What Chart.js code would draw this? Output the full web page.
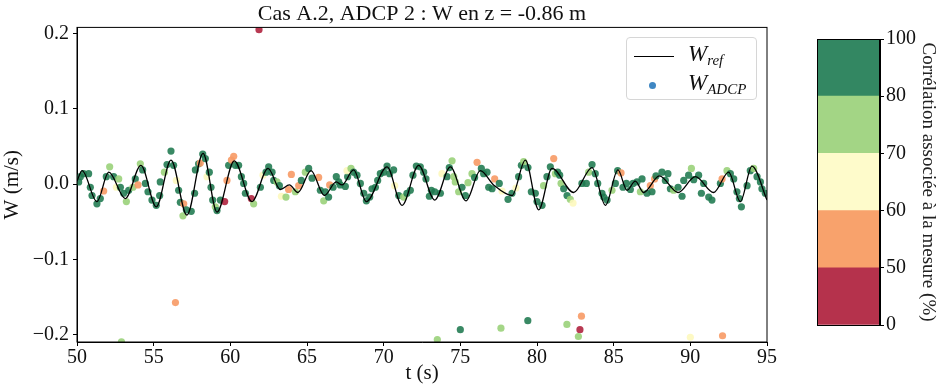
<!DOCTYPE html>
<html lang="fr">
<head>
<meta charset="UTF-8">
<title>Cas A.2, ADCP 2</title>
<script src="https://cdn.jsdelivr.net/npm/chart.js"></script>
<style>
    body { margin: 0; background: #fff; width: 939px; height: 389px; position: relative; overflow: hidden; }
    #main { position: absolute; left: 0; top: 0; }
    #cbar { position: absolute; left: 800px; top: 0; }
    .legend {
        position: absolute; left: 626px; top: 37px; width: 129px; height: 61px;
        border: 1px solid #d6d6d6; border-radius: 4px; background: rgba(255,255,255,0.85);
        font-family: "Liberation Serif", serif; font-style: italic; font-size: 23px; color: #111;
    }
    .legend .row { position: absolute; left: 0; height: 28px; width: 100%; }
    .legend .line { position: absolute; left: 7px; top: 15px; width: 40px; height: 0; border-top: 1.5px solid #000; }
    .legend .dot { position: absolute; left: 22px; top: 12px; width: 7px; height: 7px; border-radius: 50%; background: #3f87c3; }
    .legend .lab { position: absolute; left: 61px; top: 0; white-space: nowrap; }
    .legend sub { font-size: 15px; vertical-align: -4px; }
</style>
</head>
<body>
<canvas id="main" width="800" height="389"></canvas>
<canvas id="cbar" width="139" height="389"></canvas>
<div class="legend">
    <div class="row" style="top:3px"><div class="line"></div><span class="lab">W<sub>ref</sub></span></div>
    <div class="row" style="top:32px"><div class="dot"></div><span class="lab">W<sub>ADCP</sub></span></div>
</div>
<script>
    // courbe de reference (extrema)
    const refT = [50.0, 50.33, 51.3, 52.07, 53.15, 54.17, 55.17, 56.13, 57.17, 58.22,
        59.13, 60.26, 61.41, 62.46, 63.26, 63.85, 64.41, 65.26, 66.13, 66.91,
        67.28, 68.04, 68.87, 70.22, 71.2, 72.28, 73.33, 74.35, 75.37, 76.3,
        77.17, 78.37, 79.24, 80.11, 80.98, 82.39, 83.59, 84.46, 85.28, 85.87,
        86.41, 86.96, 87.98, 89.2, 90.33, 91.52, 92.5, 93.26, 94.02, 95.0];
    const refW = [0.004, 0.018, -0.023, 0.016, -0.019, 0.025, -0.030, 0.032, -0.041, 0.041,
        -0.037, 0.031, -0.023, 0.021, -0.007, -0.001, -0.011, 0.018, -0.015, 0.003,
        -0.001, 0.019, -0.023, 0.023, -0.028, 0.025, -0.021, 0.023, -0.022, 0.018,
        -0.001, -0.015, 0.032, -0.034, 0.021, -0.011, 0.022, -0.028, 0.019, -0.008,
        0.004, -0.011, 0.011, -0.011, 0.010, -0.011, 0.016, -0.023, 0.024, -0.021];

    // mesures ADCP : temps, vitesse, correlation (%)
    const adcpT = [50.11, 50.22, 50.43, 50.76, 50.87, 50.98, 51.30, 51.52, 51.74, 51.91,
        52.13, 52.39, 52.57, 52.72, 52.83, 53.04, 53.22, 53.37, 53.65, 53.80,
        53.98, 54.13, 54.28, 54.46, 54.63, 54.89, 55.17, 55.39, 55.43, 55.70,
        55.87, 56.13, 56.30, 56.48, 56.63, 56.74, 56.96, 56.91, 57.13, 57.45,
        57.67, 57.72, 57.93, 58.04, 58.20, 58.37, 58.48, 58.63, 58.74, 58.85,
        59.02, 59.13, 59.35, 59.63, 59.78, 59.89, 60.07, 60.22, 60.33, 60.54,
        60.72, 60.87, 60.98, 61.37, 61.52, 61.96, 62.13, 62.33, 62.50, 62.72,
        62.83, 63.04, 63.20, 63.33, 63.63, 63.80, 63.98, 64.24, 64.46, 64.63,
        64.89, 65.11, 65.33, 65.76, 65.87, 66.09, 66.20, 66.41, 66.48, 66.70,
        66.91, 67.07, 67.17, 67.50, 67.65, 67.61, 67.87, 68.04, 68.26, 68.48,
        68.70, 68.87, 69.09, 69.24, 69.46, 69.61, 69.78, 70.00, 70.22, 70.39,
        70.65, 70.72, 70.98, 71.30, 71.52, 71.74, 71.91, 72.13, 72.39, 72.61,
        72.76, 72.98, 73.11, 73.33, 73.70, 73.80, 74.13, 74.28, 74.46, 74.57,
        74.67, 74.89, 75.11, 75.33, 75.50, 75.76, 75.93, 76.09, 76.37, 76.52,
        76.74, 76.85, 77.07, 77.24, 77.54, 77.72, 78.11, 78.37, 78.63, 78.80,
        78.98, 79.13, 79.41, 79.63, 79.89, 80.00, 80.33, 80.43, 80.65, 80.87,
        81.09, 81.20, 81.35, 81.48, 81.57, 81.74, 81.96, 82.17, 82.35, 82.93,
        83.22, 83.37, 83.59, 83.80, 83.96, 84.24, 84.35, 84.57, 84.89, 85.11,
        85.26, 85.48, 85.61, 85.83, 86.09, 86.26, 86.52, 86.74, 86.85, 87.17,
        87.39, 87.50, 87.67, 87.76, 88.15, 88.37, 88.54, 88.70, 88.91, 89.20,
        89.46, 89.57, 89.89, 90.07, 90.22, 90.54, 90.72, 90.87, 91.20, 91.41,
        91.96, 92.07, 92.39, 92.61, 92.83, 93.04, 93.20, 93.33, 93.70, 93.91,
        94.13, 94.35, 94.57, 94.67, 94.89,
        61.87, 52.9, 56.42, 73.5, 75.0, 77.65, 79.4, 81.95, 82.9, 82.8,
        82.7, 90.0, 92.1];
    const adcpW = [0.003, 0.010, 0.014, 0.014, -0.004, -0.015, -0.026, -0.019, -0.009, 0.010,
        0.023, 0.010, -0.004, 0.007, -0.004, -0.012, -0.023, -0.008, -0.004, 0.007,
        -0.001, 0.027, 0.019, 0.001, -0.010, -0.021, -0.028, -0.015, 0.003, 0.016,
        0.026, 0.044, 0.025, 0.005, -0.008, -0.024, -0.026, -0.042, -0.034, -0.036,
        -0.012, 0.019, 0.027, 0.028, 0.040, 0.034, 0.010, 0.016, -0.004, -0.021,
        -0.030, -0.035, -0.021, -0.023, 0.005, 0.025, 0.032, 0.037, 0.025, 0.025,
        0.010, 0.001, -0.012, -0.019, -0.026, -0.004, 0.012, 0.016, 0.023, 0.016,
        0.005, 0.003, -0.002, -0.016, -0.017, -0.007, 0.013, -0.010, -0.002, 0.005,
        0.016, 0.021, 0.008, 0.009, -0.008, -0.022, -0.010, -0.017, -0.001, -0.004,
        0.010, 0.003, -0.001, -0.003, 0.010, 0.018, 0.021, 0.016, 0.012, 0.001,
        -0.012, -0.022, -0.017, -0.006, -0.004, 0.005, 0.014, 0.016, 0.024, 0.014,
        0.019, -0.002, -0.015, -0.017, -0.012, -0.008, 0.012, 0.024, 0.023, 0.016,
        0.007, -0.016, -0.008, -0.010, -0.012, 0.014, 0.010, 0.022, 0.031, 0.010,
        0.003, -0.010, -0.004, -0.015, 0.002, 0.014, 0.009, 0.029, 0.021, 0.014,
        0.016, -0.004, -0.006, 0.007, 0.001, -0.009, -0.020, -0.012, -0.005, 0.010,
        0.025, 0.030, 0.022, -0.010, -0.012, -0.023, -0.028, -0.002, 0.010, 0.023,
        0.034, 0.014, 0.016, 0.012, 0.001, -0.006, -0.015, -0.020, -0.025, 0.001,
        0.001, 0.016, 0.026, 0.014, 0.001, -0.012, -0.017, -0.021, -0.008, 0.001,
        0.018, 0.015, -0.004, 0.001, -0.007, 0.001, 0.003, -0.010, 0.007, -0.012,
        -0.002, -0.010, 0.007, 0.011, 0.016, 0.005, 0.014, -0.006, -0.008, -0.004,
        -0.016, 0.005, 0.012, 0.021, 0.006, 0.012, -0.012, 0.001, -0.017, -0.021,
        0.001, 0.007, 0.018, 0.014, 0.007, -0.010, -0.019, -0.030, -0.002, 0.018,
        0.021, 0.010, 0.003, -0.006, -0.012,
        0.205, -0.209, -0.157, -0.206, -0.193, -0.191, -0.181, -0.186, -0.175, -0.193,
        -0.202, -0.203, -0.201];
    const adcpCorr = [90, 90, 90, 90, 90, 90, 90, 90, 55, 90,
        75, 90, 65, 75, 90, 90, 75, 90, 75, 90,
        55, 75, 90, 90, 90, 90, 90, 90, 90, 75,
        90, 90, 90, 65, 90, 90, 55, 75, 90, 90,
        90, 90, 90, 55, 90, 90, 65, 90, 90, 90,
        75, 90, 90, 40, 55, 90, 55, 55, 90, 90,
        90, 90, 90, 40, 75, 90, 65, 90, 90, 90,
        90, 75, 90, 65, 75, 55, 55, 75, 55, 90,
        75, 90, 90, 55, 90, 75, 90, 90, 55, 90,
        90, 90, 90, 90, 90, 65, 75, 90, 90, 90,
        90, 90, 90, 90, 90, 90, 90, 90, 90, 90,
        90, 65, 90, 75, 90, 90, 90, 90, 90, 90,
        90, 90, 90, 90, 90, 65, 90, 90, 75, 75,
        75, 75, 90, 90, 75, 75, 90, 55, 90, 90,
        90, 90, 90, 55, 90, 65, 90, 90, 65, 90,
        90, 75, 90, 90, 90, 90, 90, 75, 90, 90,
        55, 75, 90, 90, 75, 90, 90, 75, 65, 90,
        90, 75, 90, 90, 90, 90, 90, 90, 75, 90,
        90, 55, 90, 90, 90, 90, 90, 75, 90, 90,
        55, 90, 55, 90, 90, 90, 90, 90, 75, 90,
        90, 90, 90, 75, 90, 90, 90, 90, 90, 90,
        90, 55, 75, 90, 90, 90, 90, 90, 90, 90,
        75, 90, 90, 90, 90,
        40, 75, 55, 75, 90, 75, 90, 75, 55, 40,
        75, 65, 55];

    const xTicks = [50, 55, 60, 65, 70, 75, 80, 85, 90, 95];
    const yTicks = [-0.2, -0.1, 0.0, 0.1, 0.2];

    // barre de couleur (classes discretes, meme hauteur pour chaque classe)
    const cbEdges = [0, 50, 60, 70, 80, 100];
    const cbColors = ['#b5324c', '#f8a26c', '#fefbcb', '#a3d585', '#338762'];
    const dotColors = ['rgba(176,36,63,0.9)', 'rgba(247,154,101,0.9)', 'rgba(253,248,190,0.9)',
        'rgba(154,209,122,0.9)', 'rgba(30,121,79,0.88)'];

    const txt = '#111';
    const serif = '"Liberation Serif", "DejaVu Serif", serif';

    function corrColor(c) {
        for (let i = cbEdges.length - 2; i >= 0; i--) {
            if (c >= cbEdges[i]) return dotColors[i];
        }
        return dotColors[0];
    }
    const fmt = v => (Math.abs(v) < 1e-9 ? '0.0' : v.toFixed(1).replace('-', '\u2212'));

    new Chart(document.getElementById('main'), {
        type: 'scatter',
        data: {
            datasets: [{
                type: 'line',
                label: 'W_ref',
                data: refT.map((t, i) => ({ x: t, y: refW[i] })),
                borderColor: '#000',
                borderWidth: 1.3,
                pointRadius: 0,
                cubicInterpolationMode: 'monotone',
                fill: false
            }, {
                label: 'W_ADCP',
                data: adcpT.map((t, i) => ({ x: t, y: adcpW[i] })),
                backgroundColor: adcpCorr.map(corrColor),
                borderWidth: 0,
                pointRadius: 3.6
            }]
        },
        options: {
            responsive: false,
            animation: false,
            layout: { padding: { left: 0, right: 33, top: 0, bottom: 0 } },
            plugins: {
                legend: { display: false },
                tooltip: { enabled: false },
                title: {
                    display: true,
                    fullSize: false,
                    text: 'Cas A.2, ADCP 2 : W en z = -0.86 m',
                    color: txt,
                    font: { family: serif, size: 22, weight: 'normal' },
                    padding: { top: 1, bottom: 0 }
                }
            },
            scales: {
                x: {
                    type: 'linear', min: 50, max: 95,
                    afterBuildTicks: s => { s.ticks = xTicks.map(v => ({ value: v })); },
                    afterFit: s => { s.height = 47; },
                    grid: { drawOnChartArea: false, tickLength: 4, tickColor: '#000', tickWidth: 1 },
                    border: { color: '#000', width: 1 },
                    ticks: { color: txt, padding: 0, maxRotation: 0, font: { family: serif, size: 20 } },
                    title: { display: true, text: 't (s)', color: txt, padding: { top: 0, bottom: 3 },
                        font: { family: serif, size: 21 } }
                },
                y: {
                    type: 'linear', min: -0.2093, max: 0.208,
                    afterBuildTicks: s => { s.ticks = yTicks.map(v => ({ value: v })); },
                    afterFit: s => { s.width = 77; },
                    grid: { drawOnChartArea: false, tickLength: 4, tickColor: '#000', tickWidth: 1 },
                    border: { color: '#000', width: 1 },
                    ticks: { color: txt, padding: 4, callback: fmt, font: { family: serif, size: 20 } },
                    title: { display: true, text: 'W (m/s)', color: txt, padding: { top: 0, bottom: 0 },
                        font: { family: serif, size: 21 } }
                }
            }
        },
        plugins: [{
            id: 'frame',
            afterDraw(chart) {
                const { ctx, chartArea: a } = chart;
                ctx.save();
                ctx.strokeStyle = '#000';
                ctx.lineWidth = 1;
                ctx.strokeRect(a.left, a.top, a.right - a.left, a.bottom - a.top);
                ctx.restore();
            }
        }]
    });

    new Chart(document.getElementById('cbar'), {
        type: 'bar',
        data: {
            labels: [''],
            datasets: cbColors.map(c => ({
                data: [1],
                backgroundColor: c,
                borderWidth: 0,
                categoryPercentage: 1,
                barPercentage: 1
            }))
        },
        options: {
            responsive: false,
            animation: false,
            layout: { padding: { left: 17, right: 0, top: 39, bottom: 64 } },
            plugins: { legend: { display: false }, tooltip: { enabled: false } },
            scales: {
                x: { display: false, stacked: true },
                y: {
                    position: 'right', stacked: true, min: 0, max: cbColors.length,
                    afterBuildTicks: s => { s.ticks = cbEdges.map((v, i) => ({ value: i })); },
                    afterFit: s => { s.width = 59; },
                    grid: { drawOnChartArea: false, tickLength: 4, tickColor: '#000' },
                    border: { color: '#000' },
                    ticks: { color: txt, padding: 2, callback: (v, i) => String(cbEdges[i]),
                        font: { family: serif, size: 20 } },
                    title: { display: true, text: 'Corrélation associée à la mesure (%)', color: '#222',
                        padding: { top: 0, bottom: 4 }, font: { family: serif, size: 19 } }
                }
            }
        },
        plugins: [{
            id: 'cbframe',
            afterDraw(chart) {
                const { ctx, chartArea: a } = chart;
                ctx.save();
                ctx.strokeStyle = '#000';
                ctx.lineWidth = 1;
                ctx.strokeRect(a.left + 0.5, a.top + 0.5, a.right - a.left - 1, a.bottom - a.top);
                ctx.restore();
            }
        }]
    });
</script>
</body>
</html>
